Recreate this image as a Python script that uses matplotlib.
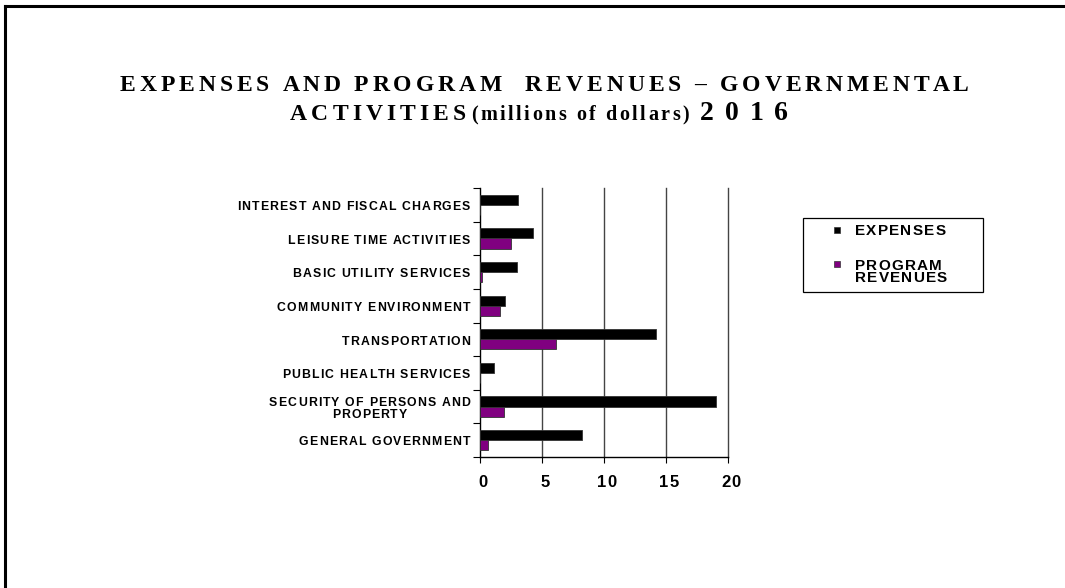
import numpy as np
import matplotlib
matplotlib.use("Agg")
import matplotlib.pyplot as plt
from matplotlib.lines import Line2D
from matplotlib.patches import Rectangle

# --- Data (bottom to top, as drawn) ---
categories = [
    'GENERAL GOVERNMENT',
    'SECURITY OF PERSONS AND\nPROPERTY',
    'PUBLIC HEALTH SERVICES',
    'TRANSPORTATION',
    'COMMUNITY ENVIRONMENT',
    'BASIC UTILITY SERVICES',
    'LEISURE TIME ACTIVITIES',
    'INTEREST AND FISCAL CHARGES',
]
expenses = [8.2, 19.05, 1.15, 14.2, 2.0, 2.95, 4.3, 3.03]
program_revenues = [0.65, 1.9, 0.0, 6.1, 1.65, 0.2, 2.5, 0.0]
x_ticks = [0, 5, 10, 15, 20]
series_names = ['EXPENSES', 'PROGRAM\nREVENUES']
series_colors = ['black', '#800080']

SANS = 'Liberation Sans'
SERIF = 'Liberation Serif'
W, H = 1065, 588

fig = plt.figure(figsize=(W / 100, H / 100), dpi=100)
renderer = fig.canvas.get_renderer()


def text_width(s, size, family):
    t = fig.text(0, 0, s, fontsize=size, family=family, weight='bold')
    w = t.get_window_extent(renderer).width
    t.remove()
    return w


def tracked(s, x, y, size, family, track=0.0, width=None, ha='left', color='black'):
    """Draw letter-spaced text; x, y in pixels from top-left, y is the baseline."""
    wx = text_width('X', size, family)
    offs = [0.0] + [text_width(s[:i] + 'X', size, family) - wx for i in range(1, len(s))]
    natural = text_width(s, size, family)
    if width is not None:
        track = (width - natural) / (len(s) - 1)
    total = natural + track * (len(s) - 1)
    x0 = x - {'left': 0, 'center': total / 2, 'right': total}[ha]
    for i, ch in enumerate(s):
        if ch == ' ':
            continue
        fig.text((x0 + offs[i] + i * track) / W, 1 - y / H, ch, fontsize=size,
                 family=family, weight='bold', color=color, ha='left', va='baseline')


# --- Axes and bars ---
ax = fig.add_axes([480 / W, 1 - 457 / H, 248 / W, 269 / H])

y = np.arange(len(categories))
h = 0.3
ax.barh(y + h / 2, expenses, height=h, color=series_colors[0], edgecolor='#333333',
        linewidth=0.6, zorder=3)
ax.barh(y - h / 2, program_revenues, height=h, color=series_colors[1], edgecolor='#333333',
        linewidth=0.6, zorder=3)

ax.set_xlim(0, 20)
ax.set_ylim(-0.5, len(categories) - 0.5)
ax.set_xticks(x_ticks)
ax.set_xticklabels([])
ax.tick_params(axis='x', length=4, width=0.8)
ax.set_yticks(np.arange(-0.5, len(categories), 1))
ax.set_yticklabels([])
ax.tick_params(axis='y', length=5, width=0.8, direction='out')

for v in x_ticks[1:]:
    ax.axvline(v, color='#444444', linewidth=1.0, zorder=1, clip_on=False)
for s in ['top', 'right']:
    ax.spines[s].set_visible(False)
ax.spines['left'].set_linewidth(1.0)
ax.spines['bottom'].set_linewidth(1.0)

# x tick labels (bold, slightly spaced)
for v in x_ticks:
    px = ax.transData.transform((v, 0))[0]
    tracked(str(v), px + 3, 487, 12, SANS, track=1.2, ha='center')

# category labels (right aligned block, lines centred)
label_size = 8.8
label_track = 1.15
for i, cat in enumerate(categories):
    cy = H - ax.transData.transform((0, i))[1]
    lines = cat.split('\n')
    widths = [text_width(l, label_size, SANS) + label_track * (len(l) - 1) for l in lines]
    block = max(widths)
    step = 11.5
    first = cy + 5.2 - step * (len(lines) - 1) / 2
    for k, l in enumerate(lines):
        tracked(l, 470 - block / 2, first + k * step, label_size, SANS,
                track=label_track, ha='center')

# --- Legend (drawn by hand) ---
fig.add_artist(Rectangle((803 / W, 1 - 292 / H), 180 / W, 74 / H, transform=fig.transFigure,
                         facecolor='white', edgecolor='black', linewidth=0.9))
marker_y = [230, 264]
text_y = [[235], [270, 282.5]]
for name, col, my, tys in zip(series_names, series_colors, marker_y, text_y):
    fig.add_artist(Rectangle(((837 - 3) / W, 1 - (my + 3) / H), 6 / W, 6 / H,
                             transform=fig.transFigure, facecolor=col,
                             edgecolor='#333333', linewidth=0.5))
    for part, ty in zip(name.split('\n'), tys):
        tracked(part, 855, ty, 11, SANS, track=1.2)

# --- Title ---
tracked('EXPENSES AND PROGRAM  REVENUES \u2013 GOVERNMENTAL', 120, 91, 17, SERIF, width=848)
tracked('ACTIVITIES', 290, 120, 17, SERIF, width=176)
tracked('(millions of dollars)', 471, 120, 14.5, SERIF, width=218)
tracked('2016', 700, 120, 20, SERIF, width=88)

# --- Page frame (left and top edges) ---
fig.add_artist(Line2D([5 / W, 5 / W], [0, 1 - 6 / H], color='black', linewidth=2.2))
fig.add_artist(Line2D([5 / W, 1], [1 - 6 / H, 1 - 6 / H], color='black', linewidth=2.2))

fig.savefig('out.png', dpi=100, facecolor='white')
